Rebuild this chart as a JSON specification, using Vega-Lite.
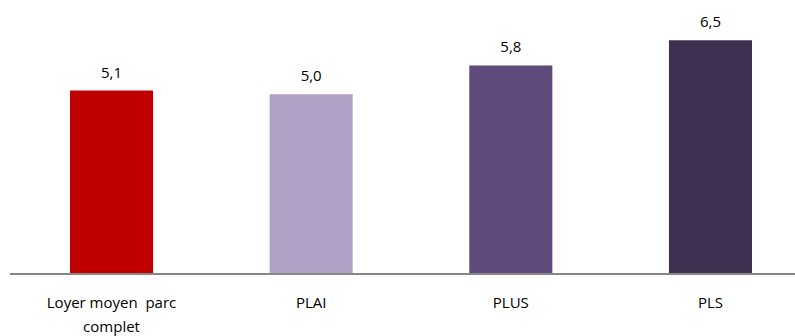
{
  "$schema": "https://vega.github.io/schema/vega-lite/v6.json",
  "autosize": "none",
  "width": 785,
  "height": 274,
  "padding": {"left": 10, "top": 0, "right": 0, "bottom": 62},
  "background": "white",
  "config": {
    "view": {"stroke": null},
    "locale": {"number": {"decimal": ",", "thousands": " ", "grouping": [3], "currency": ["", " €"]}}
  },
  "data": {
    "values": [
      {"cat": "Loyer moyen  parc complet", "value": 5.1},
      {"cat": "PLAI", "value": 5.0},
      {"cat": "PLUS", "value": 5.8},
      {"cat": "PLS", "value": 6.5}
    ]
  },
  "layer": [
    {
      "mark": {"type": "bar"},
      "encoding": {
        "x": {
          "field": "cat", "type": "nominal", "sort": null,
          "scale": {"range": [60, 742], "paddingInner": 0.584, "paddingOuter": 0},
          "axis": {
            "title": null, "labelAngle": 0, "ticks": false, "domain": false,
            "labelFont": "Open Sans", "labelFontSize": 15, "labelColor": "#000000", "labelPadding": 21,
            "labelExpr": "datum.value == 'Loyer moyen  parc complet' ? ['Loyer moyen\u00a0 parc', 'complet'] : datum.value",
            "labelLineHeight": 24
          }
        },
        "y": {
          "field": "value", "type": "quantitative",
          "scale": {"domain": [0, 7.62], "nice": false},
          "axis": null
        },
        "color": {
          "field": "cat", "type": "nominal", "sort": null, "legend": null,
          "scale": {"domain": ["Loyer moyen  parc complet", "PLAI", "PLUS", "PLS"], "range": ["#C00000", "#B2A1C7", "#604A7B", "#403152"]}
        }
      }
    },
    {
      "mark": {"type": "text", "baseline": "bottom", "dy": -10, "font": "Open Sans", "fontSize": 15, "color": "#000000"},
      "encoding": {
        "x": {"field": "cat", "type": "nominal", "sort": null},
        "y": {"field": "value", "type": "quantitative"},
        "text": {"field": "value", "type": "quantitative", "format": ".1f"}
      }
    },
    {
      "mark": {"type": "rule", "color": "#878787", "strokeWidth": 2},
      "encoding": {"y": {"datum": 0, "type": "quantitative"}}
    }
  ]
}
